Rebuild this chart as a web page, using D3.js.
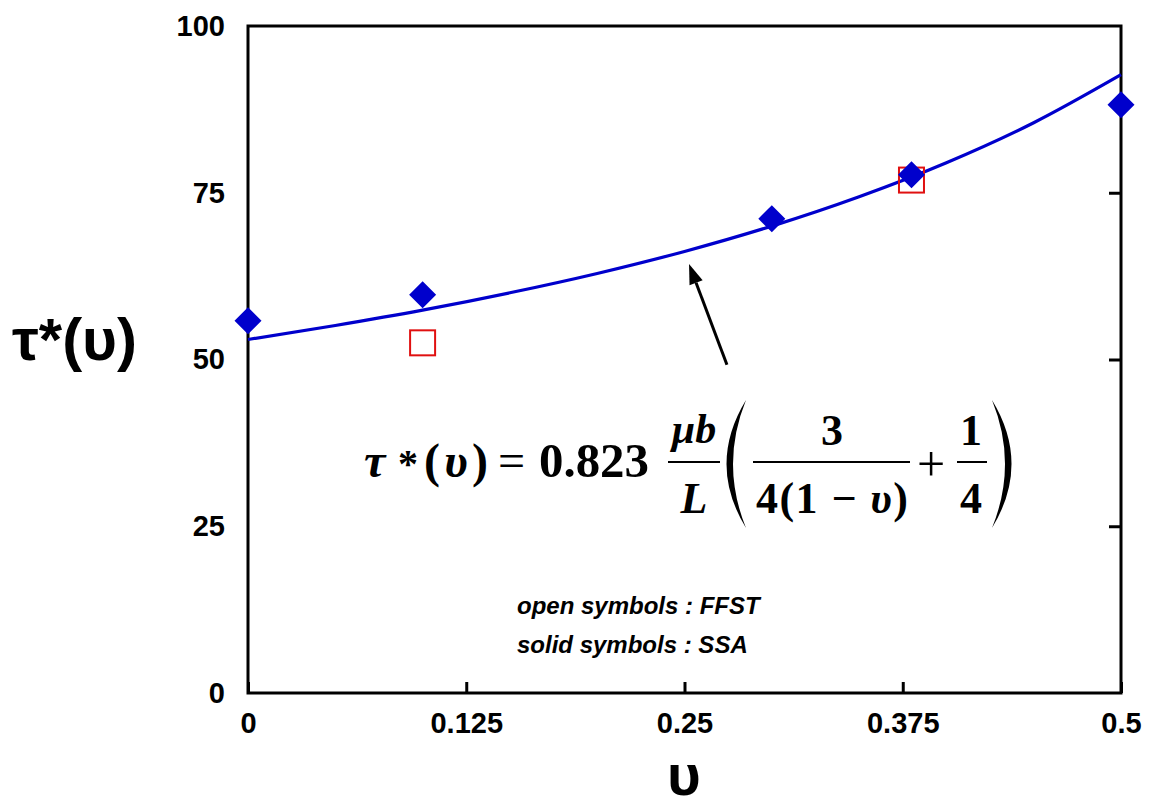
<!DOCTYPE html>
<html>
<head>
<meta charset="utf-8">
<script src="https://cdn.jsdelivr.net/npm/d3@7"></script>
<style>
  html, body { margin: 0; padding: 0; background: #fff; }
  svg { display: block; }
</style>
</head>
<body>
<svg id="chart" width="1153" height="806"></svg>
<script>
// ---- data ----
const ssaNu   = [0, 0.1, 0.3, 0.38, 0.5];
const ssaTau  = [55.8, 59.7, 71.1, 77.7, 88.2];
const ffstNu  = [0.1, 0.38];
const ffstTau = [52.5, 76.9];
const curveNu  = [0, 0.05, 0.1, 0.15, 0.2, 0.25, 0.3, 0.35, 0.4, 0.45, 0.5];
const curveTau = [53.0, 55.1, 57.4, 60.0, 62.9, 66.2, 70.0, 74.4, 79.5, 85.5, 92.7];
const xTicks = [0, 0.125, 0.25, 0.375, 0.5];
const xTickLabels = ["0", "0.125", "0.25", "0.375", "0.5"];
const yTicks = [0, 25, 50, 75, 100];
const yTickLabels = ["0", "25", "50", "75", "100"];

const svg = d3.select("#chart");
const L = 248, R = 1121, T = 26, B = 693;
const x = d3.scaleLinear().domain([0, 0.5]).range([L, R]);
const y = d3.scaleLinear().domain([0, 100]).range([B, T]);

const sans = "'Liberation Sans', Arial, sans-serif";
const serif = "'Liberation Serif', 'Times New Roman', serif";

// bottom axis
const gx = svg.append("g").attr("transform", `translate(0,${B})`)
  .call(d3.axisBottom(x).tickValues(xTicks)
    .tickFormat((d, i) => xTickLabels[i])
    .tickSizeInner(-11).tickSizeOuter(0).tickPadding(19));
gx.select(".domain").remove();
gx.selectAll("line").attr("stroke", "#000").attr("stroke-width", 3);
gx.selectAll("text").attr("font-family", sans).attr("font-weight", "bold")
  .attr("font-size", 29).attr("fill", "#000");

// left axis (labels only)
const gy = svg.append("g").attr("transform", `translate(${L},0)`)
  .call(d3.axisLeft(y).tickValues(yTicks)
    .tickFormat((d, i) => yTickLabels[i])
    .tickSize(0).tickPadding(23));
gy.select(".domain").remove();
gy.selectAll("text").attr("font-family", sans).attr("font-weight", "bold")
  .attr("font-size", 29).attr("fill", "#000");

// right axis inward ticks
const gr = svg.append("g").attr("transform", `translate(${R},0)`)
  .call(d3.axisRight(y).tickValues([25, 50, 75]).tickFormat("")
    .tickSizeInner(-12).tickSizeOuter(0));
gr.select(".domain").remove();
gr.selectAll("line").attr("stroke", "#000").attr("stroke-width", 3);

// frame
svg.append("rect").attr("x", L).attr("y", T).attr("width", R - L).attr("height", B - T)
  .attr("fill", "none").attr("stroke", "#000").attr("stroke-width", 3);

// fitted curve
const curveData = curveNu.map((v, i) => [v, curveTau[i]]);
svg.append("path").datum(curveData)
  .attr("fill", "none").attr("stroke", "#0000cc").attr("stroke-width", 3.2)
  .attr("d", d3.line().x(d => x(d[0])).y(d => y(d[1])).curve(d3.curveMonotoneX));

// FFST open squares
const sq = 25;
svg.selectAll(".ffst").data(ffstNu.map((v, i) => [v, ffstTau[i]])).enter()
  .append("rect")
  .attr("x", d => x(d[0]) - sq / 2).attr("y", d => y(d[1]) - sq / 2)
  .attr("width", sq).attr("height", sq)
  .attr("fill", "none").attr("stroke", "#e01010").attr("stroke-width", 2);

// SSA solid diamonds
const dh = 13.5;
svg.selectAll(".ssa").data(ssaNu.map((v, i) => [v, ssaTau[i]])).enter()
  .append("path")
  .attr("transform", d => `translate(${x(d[0])},${y(d[1])})`)
  .attr("d", `M0,${-dh}L${dh},0L0,${dh}L${-dh},0Z`)
  .attr("fill", "#0000cc");

// arrow annotation
const arrowFrom = [0.2743, 49.2], arrowTo = [0.2526, 64.3];
const x1 = x(arrowFrom[0]), y1 = y(arrowFrom[1]), x2 = x(arrowTo[0]), y2 = y(arrowTo[1]);
const ang = Math.atan2(y2 - y1, x2 - x1);
const hl = 20, hw = 7;
const bx = x2 - hl * Math.cos(ang), by = y2 - hl * Math.sin(ang);
svg.append("line").attr("x1", x1).attr("y1", y1).attr("x2", bx).attr("y2", by)
  .attr("stroke", "#000").attr("stroke-width", 3);
svg.append("path")
  .attr("d", `M${x2},${y2}L${bx + hw * Math.sin(ang)},${by - hw * Math.cos(ang)}L${bx - hw * Math.sin(ang)},${by + hw * Math.cos(ang)}Z`)
  .attr("fill", "#000");

// formula
const f = svg.append("g").attr("font-family", serif).attr("font-weight", "bold").attr("fill", "#000");
f.append("text").attr("x", 364).attr("y", 477).attr("font-size", 48).attr("font-style", "italic").text("τ");
f.append("text").attr("x", 398).attr("y", 477).attr("font-size", 40).text("*");
const pu = f.append("text").attr("x", 424).attr("y", 477).attr("font-size", 48)
  .attr("textLength", 64).attr("lengthAdjust", "spacing");
pu.append("tspan").text("(");
pu.append("tspan").attr("font-style", "italic").text("υ");
pu.append("tspan").text(")");
f.append("text").attr("x", 498).attr("y", 477).attr("font-size", 48).attr("font-weight", "normal").text("=");
f.append("text").attr("x", 539).attr("y", 477).attr("font-size", 48)
  .attr("textLength", 110).attr("lengthAdjust", "spacingAndGlyphs").text("0.823");

f.append("text").attr("x", 694).attr("y", 443).attr("font-size", 42).attr("font-style", "italic")
  .attr("text-anchor", "middle").text("μb");
f.append("line").attr("x1", 668).attr("x2", 720).attr("y1", 462).attr("y2", 462)
  .attr("stroke", "#000").attr("stroke-width", 2);
f.append("text").attr("x", 694).attr("y", 513).attr("font-size", 44).attr("font-style", "italic")
  .attr("text-anchor", "middle").text("L");

f.append("path").attr("d", "M746,400 Q707,464 746,528 Q720,464 746,400 Z").attr("fill", "#000");

f.append("text").attr("x", 832).attr("y", 445).attr("font-size", 44)
  .attr("text-anchor", "middle").text("3");
f.append("line").attr("x1", 753).attr("x2", 910).attr("y1", 462).attr("y2", 462)
  .attr("stroke", "#000").attr("stroke-width", 2);
const den = f.append("text").attr("x", 756).attr("y", 513).attr("font-size", 44)
  .attr("textLength", 152).attr("lengthAdjust", "spacing");
den.append("tspan").text("4(1 − ");
den.append("tspan").attr("font-style", "italic").text("υ");
den.append("tspan").text(")");

f.append("text").attr("x", 931).attr("y", 481).attr("font-size", 50).attr("font-weight", "normal")
  .attr("text-anchor", "middle").text("+");

f.append("text").attr("x", 971).attr("y", 445).attr("font-size", 44)
  .attr("text-anchor", "middle").text("1");
f.append("line").attr("x1", 957).attr("x2", 987).attr("y1", 462).attr("y2", 462)
  .attr("stroke", "#000").attr("stroke-width", 2);
f.append("text").attr("x", 971).attr("y", 513).attr("font-size", 44)
  .attr("text-anchor", "middle").text("4");

f.append("path").attr("d", "M992,400 Q1031,464 992,528 Q1018,464 992,400 Z").attr("fill", "#000");

// legend note
const note = svg.append("g").attr("font-family", sans).attr("font-weight", "bold")
  .attr("font-style", "italic").attr("font-size", 24).attr("fill", "#000");
note.append("text").attr("x", 517).attr("y", 614).text("open symbols : FFST");
note.append("text").attr("x", 517).attr("y", 653).text("solid symbols : SSA");

// axis titles
svg.append("text").attr("x", 12).attr("y", 360).attr("font-family", sans)
  .attr("font-weight", "bold").attr("font-size", 60).attr("fill", "#000").text("τ*(υ)");
svg.append("text").attr("x", 684).attr("y", 795).attr("text-anchor", "middle").attr("font-family", sans)
  .attr("font-weight", "bold").attr("font-size", 58).attr("fill", "#000").text("υ");
</script>
</body>
</html>
